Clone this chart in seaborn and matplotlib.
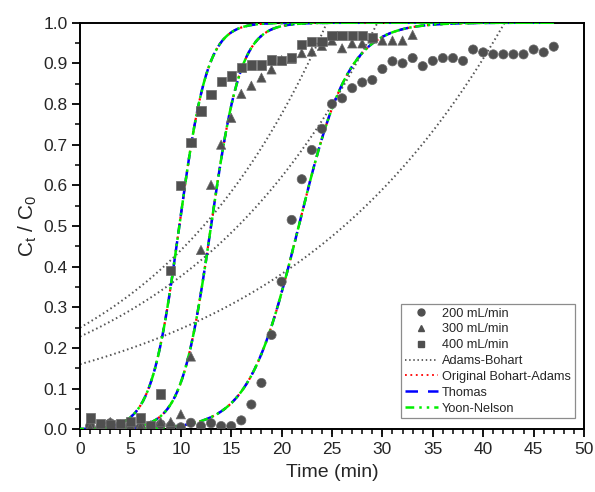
import numpy as np
import pandas as pd
import matplotlib
matplotlib.use("Agg")
import matplotlib.pyplot as plt
from matplotlib.lines import Line2D
import seaborn as sns

# ---------------- data ----------------
t200 = list(range(1, 48))
c200 = [0.008, 0.005, 0.015, 0.010, 0.008, 0.005, 0.008, 0.012, 0.008, 0.005,
        0.016, 0.008, 0.015, 0.008, 0.008, 0.022, 0.061, 0.114, 0.232, 0.363,
        0.515, 0.615, 0.687, 0.739, 0.800, 0.814, 0.839, 0.853, 0.859, 0.886,
        0.905, 0.900, 0.913, 0.893, 0.906, 0.913, 0.913, 0.906, 0.934, 0.927,
        0.922, 0.922, 0.922, 0.922, 0.934, 0.927, 0.941]
t300 = list(range(1, 34))
c300 = [0.005, 0.008, 0.018, 0.012, 0.010, 0.008, 0.010, 0.018, 0.018, 0.037,
        0.179, 0.441, 0.601, 0.700, 0.766, 0.825, 0.845, 0.865, 0.885, 0.908,
        0.911, 0.925, 0.929, 0.943, 0.956, 0.937, 0.949, 0.949, 0.961, 0.956,
        0.956, 0.956, 0.970]
t400 = list(range(1, 30))
c400 = [0.028, 0.014, 0.012, 0.015, 0.020, 0.028, 0.008, 0.087, 0.391, 0.600,
        0.705, 0.783, 0.824, 0.856, 0.869, 0.890, 0.896, 0.896, 0.908, 0.907,
        0.914, 0.947, 0.954, 0.954, 0.969, 0.969, 0.969, 0.969, 0.963]

series_labels = ["200 mL/min", "300 mL/min", "400 mL/min"]
series_markers = ["o", "^", "s"]

# logistic model parameters (Thomas / Yoon-Nelson / original Bohart-Adams): tau, k
tau_fit = [21.7, 13.0, 9.85]
k_fit = [0.40, 0.68, 0.72]
# Adams-Bohart exponential parameters: A, b  (C/C0 = A*exp(b t))
ab_A = [0.16, 0.228, 0.25]
ab_b = [0.0435, 0.0501, 0.0566]

x_ticks = [0, 5, 10, 15, 20, 25, 30, 35, 40, 45, 50]
y_ticks = [0.0, 0.1, 0.2, 0.3, 0.4, 0.5, 0.6, 0.7, 0.8, 0.9, 1.0]

# ---------------- style ----------------
sns.set_style("ticks")
plt.rcParams["font.family"] = ["Liberation Sans", "DejaVu Sans"]
plt.rcParams["mathtext.fontset"] = "custom"
plt.rcParams["mathtext.rm"] = "Liberation Sans"
plt.rcParams["mathtext.it"] = "Liberation Sans"

fig = plt.figure(figsize=(5.95, 4.92), dpi=100)
ax = fig.add_axes([0.1345, 0.1274, 0.9815 - 0.1345, 0.9539 - 0.1274])

mk_color = "#4f4f4f"
frames = []
for t, c, lab in zip([t200, t300, t400], [c200, c300, c400], series_labels):
    frames.append(pd.DataFrame({"t": t, "c": c, "series": lab}))
df = pd.concat(frames, ignore_index=True)

tt = np.linspace(0, 47, 400)
tline = np.linspace(0, 50, 400)

# Adams-Bohart dotted lines
for A, b in zip(ab_A, ab_b):
    sns.lineplot(x=tline, y=A * np.exp(b * tline), ax=ax, color="#555555",
                 linestyle=(0, (0.8, 1.5)), linewidth=1.4, zorder=2)

for tau, k in zip(tau_fit, k_fit):
    yy = 1.0 / (1.0 + np.exp(k * (tau - tt)))
    sns.lineplot(x=tt, y=yy, ax=ax, color="#ff0000", linestyle=(0, (1, 2)),
                 linewidth=1.6, zorder=3)
    sns.lineplot(x=tt, y=yy, ax=ax, color="#0000ff", linestyle=(0, (4, 3)),
                 linewidth=1.8, zorder=4)
    sns.lineplot(x=tt, y=yy, ax=ax, color="#00ee00",
                 linestyle=(2, (3.5, 1.5, 1, 1.5, 1, 1.5)),
                 linewidth=1.8, zorder=5)

sns.scatterplot(data=df, x="t", y="c", style="series", markers=dict(zip(series_labels, series_markers)),
                color=mk_color, s=44, edgecolor="#6a6a6a", linewidth=0.5,
                ax=ax, legend=False, zorder=6)

ax.set_xlim(0, 50)
ax.set_ylim(0, 1.0)
ax.set_xticks(x_ticks)
ax.set_yticks(y_ticks)
ax.set_xticklabels([str(v) for v in x_ticks])
ax.set_yticklabels([f"{v:.1f}" for v in y_ticks])
ax.set_xticks(np.arange(0, 50.1, 1), minor=True)
ax.set_yticks(np.arange(0, 1.001, 0.05), minor=True)
ax.tick_params(axis="both", which="major", direction="out", length=6, width=1.3,
               labelsize=12.5, color="black", pad=3)
ax.tick_params(axis="both", which="minor", direction="out", length=3.5, width=1.1,
               color="black")
ax.tick_params(top=False, right=False, which="both")
for s in ax.spines.values():
    s.set_visible(True)
    s.set_color("black")
    s.set_linewidth(1.4)

ax.set_xlabel("Time (min)", fontsize=14, labelpad=5)
ax.set_ylabel(r"$\mathregular{C_t}$ / $\mathregular{C_0}$", fontsize=15, labelpad=3)

handles = []
for lab, m in zip(series_labels, series_markers):
    handles.append(Line2D([], [], linestyle="none", marker=m, color=mk_color,
                          markersize=5, label=lab))
handles.append(Line2D([], [], color="#555555", linestyle=(0, (0.8, 1.5)), linewidth=1.3,
                      label="Adams-Bohart"))
handles.append(Line2D([], [], color="#ff0000", linestyle=(0, (1, 2)), linewidth=1.3,
                      label="Original Bohart-Adams"))
handles.append(Line2D([], [], color="#0000ff", linestyle=(0, (5, 4)), linewidth=1.8,
                      label="Thomas"))
handles.append(Line2D([], [], color="#00ee00", linestyle=(0, (3.5, 2, 1, 2, 1, 2)),
                      linewidth=1.8, label="Yoon-Nelson"))
leg = ax.legend(handles=handles, loc="lower right", bbox_to_anchor=(0.982, 0.027),
                fontsize=9.2, frameon=True, fancybox=False, edgecolor="#8c8c8c",
                framealpha=1, labelspacing=0.3, handlelength=2.6, handletextpad=0.35,
                borderpad=0.3, borderaxespad=0)
leg.get_frame().set_linewidth(0.9)

fig.savefig("out.png", dpi=100)
